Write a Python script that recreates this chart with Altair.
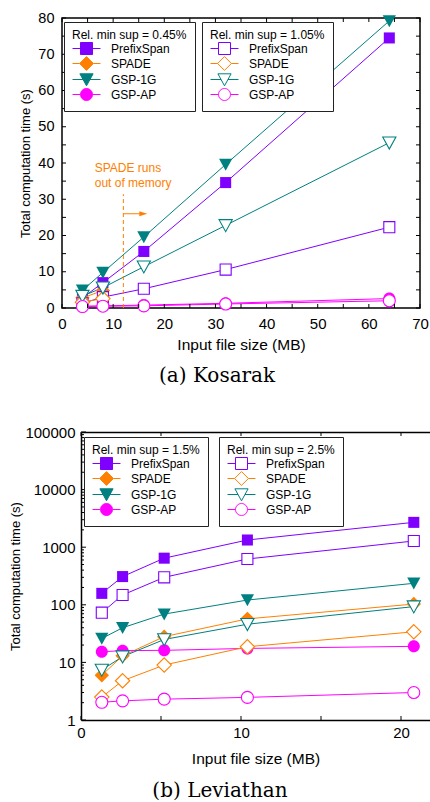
import altair as alt
import pandas as pd

FONT = "Liberation Sans"
SERIF = "DejaVu Serif"

ALGS = ["PrefixSpan", "SPADE", "GSP-1G", "GSP-AP"]
COLORS = ["#7f00ff", "#ff8000", "#008080", "#ff00ff"]

# marker outlines (custom symbol paths)
SHAPE_PATHS = [
    "M-0.92,-0.92H0.92V0.92H-0.92Z",
    "M0,-1.2L1.2,0L0,1.2L-1.2,0Z",
    "M-1.1,-0.95H1.1L0,1.05Z",
    "M-1,0A1,1,0,1,0,1,0A1,1,0,1,0,-1,0Z",
]
# legend samples: marker with a short line through it
LEGEND_PATHS = [
    "M-2.33,0H-1M1,0H2.33M-1,-1H1V1H-1Z",
    "M-2.33,0H-1.15M1.15,0H2.33M0,-1.15L1.15,0L0,1.15L-1.15,0Z",
    "M-2.33,0H-0.58M0.58,0H2.33M-1.1,-0.95H1.1L0,1.05Z",
    "M-2.33,0H-1M1,0H2.33M-1,0A1,1,0,1,0,1,0A1,1,0,1,0,-1,0Z",
]

# ---------------- (a) Kosarak ----------------
kos_size = [4, 8, 16, 32, 64]
kos_prefixspan_045 = [2.8, 7.0, 15.6, 34.6, 74.5]
kos_spade_045 = [2.8, 4.8]
kos_gsp1g_045 = [4.9, 9.8, 19.6, 39.6, 79.2]
kos_gspap_045 = [0.5, 0.6, 0.8, 1.3, 2.6]
kos_prefixspan_105 = [1.3, 3.0, 5.3, 10.6, 22.3]
kos_spade_105 = [1.6, 2.6]
kos_gsp1g_105 = [3.3, 5.6, 11.4, 22.8, 45.6]
kos_gspap_105 = [0.4, 0.5, 0.6, 1.1, 2.0]
kos_xticks = [0, 10, 20, 30, 40, 50, 60, 70]
kos_xticks_all = [0, 5, 10, 15, 20, 25, 30, 35, 40, 45, 50, 55, 60, 65, 70]
kos_yticks = [0, 10, 20, 30, 40, 50, 60, 70, 80]
kos_yticks_all = [0, 5, 10, 15, 20, 25, 30, 35, 40, 45, 50, 55, 60, 65, 70, 75, 80]
kos_title_a = "Rel. min sup = 0.45%"
kos_title_b = "Rel. min sup = 1.05%"

# annotation
oom_label = ["SPADE runs\nout of memory"]
oom_text_x = [6.4]
oom_text_y = [39.9]
oom_line_x = [12]
oom_line_y = [0]
oom_line_y2 = [31.4]
oom_arrow_x = [12]
oom_arrow_x2 = [15.2]
oom_arrow_y = [26]
oom_head_x = [15.9]

# ---------------- (b) Leviathan ----------------
lev_size = [1.3, 2.6, 5.2, 10.4, 20.8]
lev_prefixspan_15 = [158, 309, 645, 1333, 2700]
lev_spade_15 = [6.0, 13, 28, 57, 103]
lev_gsp1g_15 = [26, 40, 69, 121, 236]
lev_gspap_15 = [15.3, 16, 16.2, 17.5, 19]
lev_prefixspan_25 = [73, 148, 300, 624, 1282]
lev_spade_25 = [2.5, 4.8, 9.0, 18.7, 34]
lev_gsp1g_25 = [7.4, 12.6, 25, 46, 93]
lev_gspap_25 = [2.03, 2.15, 2.3, 2.47, 3.0]
lev_xticks = [0, 10, 20]
lev_xticks_all = [0, 5, 10, 15, 20]
lev_yticks = [1, 10, 100, 1000, 10000, 100000]
lev_yminor = [m * d for d in [1, 10, 100, 1000, 10000] for m in range(2, 10)]
lev_title_a = "Rel. min sup = 1.5%"
lev_title_b = "Rel. min sup = 2.5%"


def to_df(xs, series, sup):
    rows = []
    for alg, ys in zip(ALGS, series):
        for x, y in zip(xs, ys):
            rows.append({"size": x, "time": y, "alg": alg, "sup": sup})
    return pd.DataFrame(rows)


def cscale():
    return alt.Scale(domain=ALGS, range=COLORS)


def make_legend(title, lx, ly, filled):
    kw = dict(
        title=title, orient="none", legendX=lx, legendY=ly,
        strokeColor="#222222", fillColor="white", padding=8, cornerRadius=0,
        titleFont=FONT, titleFontSize=12, titleFontWeight="normal", titleColor="black",
        titlePadding=0, labelFont=FONT, labelFontSize=12, labelColor="black",
        symbolSize=144, symbolStrokeWidth=1, symbolOffset=8, labelOffset=18,
        rowPadding=-4.8,
    )
    if not filled:
        kw["symbolFillColor"] = "white"
    return alt.Legend(**kw)


def legend_layer(title, lx, ly, filled):
    leg = make_legend(title, lx, ly, filled)
    base = alt.Chart(pd.DataFrame({"alg": ALGS})).transform_filter("false")
    enc = dict(
        shape=alt.Shape("alg:N", scale=alt.Scale(domain=ALGS, range=LEGEND_PATHS), legend=leg),
        stroke=alt.Stroke("alg:N", scale=cscale(), legend=leg),
    )
    if filled:
        enc["fill"] = alt.Fill("alg:N", scale=cscale(), legend=leg)
        return base.mark_point(filled=True, opacity=1).encode(**enc)
    return base.mark_point(filled=False, opacity=1).encode(**enc)


def series_layers(df, xs, ys, xaxis, yaxis):
    base = alt.Chart(df)
    X = alt.X("size:Q", scale=xs, axis=xaxis)
    Y = alt.Y("time:Q", scale=ys, axis=yaxis)
    Xn = alt.X("size:Q", scale=xs, axis=None)
    Yn = alt.Y("time:Q", scale=ys, axis=None)
    lines = base.mark_line(strokeWidth=1).encode(
        x=X, y=Y,
        color=alt.Color("alg:N", scale=cscale(), legend=None),
        detail="sup:N",
    )
    shp = alt.Shape("alg:N", scale=alt.Scale(domain=ALGS, range=SHAPE_PATHS), legend=None)
    filled = base.transform_filter(alt.datum.sup == "A").mark_point(
        filled=True, opacity=1, size=144, strokeWidth=0
    ).encode(x=Xn, y=Yn, color=alt.Color("alg:N", scale=cscale(), legend=None), shape=shp)
    hollow = base.transform_filter(alt.datum.sup == "B").mark_point(
        filled=False, opacity=1, size=144, strokeWidth=1.1
    ).encode(x=Xn, y=Yn, color=alt.Color("alg:N", scale=cscale(), legend=None),
             fill=alt.value("white"), shape=shp)
    return [lines, filled, hollow]


def xtick_layer(vals, xs, H, L, top, axis=None):
    df = pd.DataFrame({"v": vals})
    if top:
        yenc = dict(y=alt.value(0), y2=alt.value(L))
    else:
        yenc = dict(y=alt.value(H), y2=alt.value(H - L))
    return alt.Chart(df).mark_rule(color="black", strokeWidth=1).encode(
        x=alt.X("v:Q", scale=xs, axis=axis), **yenc)


def ytick_layer(vals, ys, x0, L):
    df = pd.DataFrame({"v": vals})
    return alt.Chart(df).mark_rule(color="black", strokeWidth=1).encode(
        y=alt.Y("v:Q", scale=ys, axis=None), x=alt.value(x0), x2=alt.value(x0 + L))


RES = dict(color="independent", fill="independent", stroke="independent", shape="independent")

# ---------- panel (a) ----------
KW, KH = 358, 290
kxs = alt.Scale(domain=[0, 70], nice=False, zero=False)
kys = alt.Scale(domain=[0, 80], nice=False, zero=False)

kos_df = pd.concat([
    to_df(kos_size, [kos_prefixspan_045, kos_spade_045, kos_gsp1g_045, kos_gspap_045], "A"),
    to_df(kos_size, [kos_prefixspan_105, kos_spade_105, kos_gsp1g_105, kos_gspap_105], "B"),
])

kx_axis = alt.Axis(values=kos_xticks, title="Input file size (MB)", grid=False, ticks=False,
                   domain=False, labelFont=FONT, labelFontSize=15, labelColor="black",
                   labelPadding=8, labelFlush=False, labelOverlap=False,
                   titleFont=FONT, titleFontSize=15.5, titleFontWeight="normal",
                   titleColor="black", titlePadding=6)
ky_axis = alt.Axis(values=kos_yticks, title="Total computation time (s)", grid=False,
                   ticks=False, domain=False, labelFont=FONT, labelFontSize=14.5,
                   labelColor="black", labelPadding=8, labelFlush=False, labelOverlap=False,
                   titleFont=FONT, titleFontSize=13, titleFontWeight="normal",
                   titleColor="black", titlePadding=5)

ann_df = pd.DataFrame({"ax": oom_text_x, "ay": oom_text_y, "t": oom_label})
ann_text = alt.Chart(ann_df).mark_text(
    align="left", baseline="top", color="#ff8000", font=FONT, fontSize=12,
    lineBreak="\n", lineHeight=15
).encode(x=alt.X("ax:Q", scale=kxs, axis=None), y=alt.Y("ay:Q", scale=kys, axis=None), text="t:N")
oom_df = pd.DataFrame({"lx": oom_line_x, "ly": oom_line_y, "ly2": oom_line_y2})
oom_line = alt.Chart(oom_df).mark_rule(color="#ff8000", strokeWidth=1, strokeDash=[4, 3]).encode(
    x=alt.X("lx:Q", scale=kxs, axis=None), y=alt.Y("ly:Q", scale=kys, axis=None), y2="ly2:Q")
arr_df = pd.DataFrame({"rx": oom_arrow_x, "rx2": oom_arrow_x2, "ry": oom_arrow_y, "hx": oom_head_x})
arr_line = alt.Chart(arr_df).mark_rule(color="#ff8000", strokeWidth=1).encode(
    x=alt.X("rx:Q", scale=kxs, axis=None), x2="rx2:Q", y=alt.Y("ry:Q", scale=kys, axis=None))
arr_head = alt.Chart(arr_df).mark_point(
    shape="M-1,-0.6L1,0L-1,0.6Z", filled=True, size=64, color="#ff8000", opacity=1
).encode(x=alt.X("hx:Q", scale=kxs, axis=None), y=alt.Y("ry:Q", scale=kys, axis=None))

kos_layers = series_layers(kos_df, kxs, kys, kx_axis, ky_axis) + [
    xtick_layer(kos_xticks_all, kxs, KH, 4, False),
    xtick_layer(kos_xticks_all, kxs, KH, 4, True),
    ytick_layer(kos_yticks_all, kys, 0, 4),
    ytick_layer(kos_yticks_all, kys, KW, -4),
    oom_line, arr_line, arr_head, ann_text,
    legend_layer(kos_title_a, 2, 4, True),
    legend_layer(kos_title_b, 140, 4, False),
]
kos_chart = (alt.layer(*kos_layers)
             .resolve_scale(**RES)
             .resolve_axis(x="independent", y="independent")
             .properties(width=KW, height=KH,
                         view=alt.ViewBackground(stroke="black", strokeWidth=1.5),
                         title=alt.TitleParams("(a) Kosarak", orient="bottom", anchor="middle",
                                               frame="bounds", font=SERIF, fontSize=20,
                                               fontWeight="normal", color="black", offset=13,
                                               dx=-7)))

# ---------- panel (b) ----------
SHIFT = 19          # panel (b) plot starts further right than panel (a)
LW, LH = 368, 288
lxs = alt.Scale(domain=[0, 21.8125], range=[SHIFT, LW], nice=False, zero=False)
lys = alt.Scale(type="log", domain=[1, 100000], nice=False)

lev_df = pd.concat([
    to_df(lev_size, [lev_prefixspan_15, lev_spade_15, lev_gsp1g_15, lev_gspap_15], "A"),
    to_df(lev_size, [lev_prefixspan_25, lev_spade_25, lev_gsp1g_25, lev_gspap_25], "B"),
])

lx_axis = alt.Axis(values=lev_xticks, title="Input file size (MB)", grid=False, ticks=False,
                   domain=True, domainColor="black", domainWidth=1.5,
                   labelFont=FONT, labelFontSize=15, labelColor="black",
                   labelPadding=5.5, labelFlush=False, labelOverlap=False,
                   titleFont=FONT, titleFontSize=15.5, titleFontWeight="normal",
                   titleColor="black", titlePadding=11)
ly_axis = alt.Axis(values=lev_yticks, format="d", title="Total computation time (s)",
                   grid=False, ticks=False, domain=True, domainColor="black", domainWidth=1.5,
                   offset=-SHIFT,
                   labelFont=FONT, labelFontSize=15, labelColor="black", labelPadding=6,
                   labelFlush=False, labelOverlap=False,
                   titleFont=FONT, titleFontSize=13, titleFontWeight="normal",
                   titleColor="black", titlePadding=2)
top_axis = alt.Axis(orient="top", labels=False, ticks=False, domain=True, domainColor="black",
                    domainWidth=1.5, grid=False, title=None)

lev_layers = series_layers(lev_df, lxs, lys, lx_axis, ly_axis) + [
    xtick_layer(lev_xticks_all, lxs, LH, 4, False),
    xtick_layer(lev_xticks_all, lxs, LH, 4, True, axis=top_axis),
    ytick_layer(lev_yticks, lys, SHIFT, 5),
    ytick_layer(lev_yminor, lys, SHIFT, 3),
    legend_layer(lev_title_a, SHIFT + 3, 5, True),
    legend_layer(lev_title_b, SHIFT + 138, 5, False),
]
lev_chart = (alt.layer(*lev_layers)
             .resolve_scale(**RES)
             .resolve_axis(x="independent", y="independent")
             .properties(width=LW, height=LH,
                         title=alt.TitleParams("(b) Leviathan", orient="bottom", anchor="middle",
                                               frame="bounds", font=SERIF, fontSize=20,
                                               fontWeight="normal", color="black", offset=14)))

chart = alt.vconcat(kos_chart, lev_chart, spacing=38).properties(
    padding={"left": 9, "top": 9, "right": 0, "bottom": 0}, background="white"
).configure_view(stroke=None)

chart.save("out.html", embed_options={"renderer": "svg", "actions": False})
